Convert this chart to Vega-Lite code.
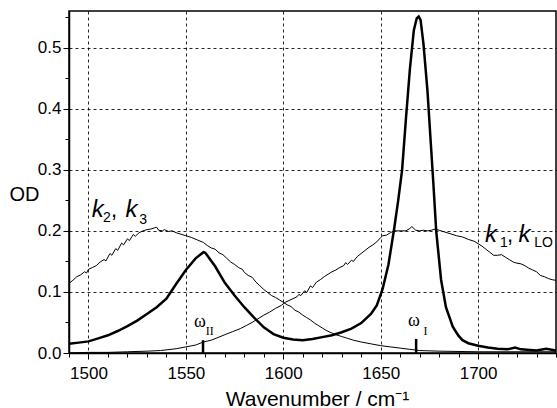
{
  "$schema": "https://vega.github.io/schema/vega-lite/v6.json",
  "autosize": "none",
  "width": 487,
  "height": 342,
  "padding": {"left": 69, "top": 11, "right": 1, "bottom": 55},
  "background": "white",
  "config": {
    "font": "Liberation Sans",
    "view": {"stroke": "black", "strokeWidth": 1.5}
  },
  "datasets": {
    "spectra": [
      {"wn": 1490, "od": 0.015, "series": "OD"},
      {"wn": 1495, "od": 0.017, "series": "OD"},
      {"wn": 1500, "od": 0.019, "series": "OD"},
      {"wn": 1505, "od": 0.024, "series": "OD"},
      {"wn": 1510, "od": 0.029, "series": "OD"},
      {"wn": 1515, "od": 0.036, "series": "OD"},
      {"wn": 1520, "od": 0.044, "series": "OD"},
      {"wn": 1525, "od": 0.053, "series": "OD"},
      {"wn": 1530, "od": 0.064, "series": "OD"},
      {"wn": 1535, "od": 0.075, "series": "OD"},
      {"wn": 1540, "od": 0.089, "series": "OD"},
      {"wn": 1545, "od": 0.113, "series": "OD"},
      {"wn": 1550, "od": 0.136, "series": "OD"},
      {"wn": 1555, "od": 0.155, "series": "OD"},
      {"wn": 1559, "od": 0.165, "series": "OD"},
      {"wn": 1560, "od": 0.164, "series": "OD"},
      {"wn": 1565, "od": 0.142, "series": "OD"},
      {"wn": 1570, "od": 0.115, "series": "OD"},
      {"wn": 1575, "od": 0.094, "series": "OD"},
      {"wn": 1580, "od": 0.075, "series": "OD"},
      {"wn": 1585, "od": 0.058, "series": "OD"},
      {"wn": 1590, "od": 0.042, "series": "OD"},
      {"wn": 1595, "od": 0.031, "series": "OD"},
      {"wn": 1600, "od": 0.025, "series": "OD"},
      {"wn": 1605, "od": 0.022, "series": "OD"},
      {"wn": 1610, "od": 0.021, "series": "OD"},
      {"wn": 1615, "od": 0.023, "series": "OD"},
      {"wn": 1620, "od": 0.026, "series": "OD"},
      {"wn": 1625, "od": 0.029, "series": "OD"},
      {"wn": 1630, "od": 0.034, "series": "OD"},
      {"wn": 1635, "od": 0.040, "series": "OD"},
      {"wn": 1640, "od": 0.049, "series": "OD"},
      {"wn": 1645, "od": 0.064, "series": "OD"},
      {"wn": 1648, "od": 0.078, "series": "OD"},
      {"wn": 1651, "od": 0.105, "series": "OD"},
      {"wn": 1654, "od": 0.145, "series": "OD"},
      {"wn": 1657, "od": 0.205, "series": "OD"},
      {"wn": 1659, "od": 0.250, "series": "OD"},
      {"wn": 1661, "od": 0.300, "series": "OD"},
      {"wn": 1663, "od": 0.385, "series": "OD"},
      {"wn": 1665, "od": 0.465, "series": "OD"},
      {"wn": 1667, "od": 0.528, "series": "OD"},
      {"wn": 1668.5, "od": 0.548, "series": "OD"},
      {"wn": 1669.5, "od": 0.551, "series": "OD"},
      {"wn": 1670.5, "od": 0.545, "series": "OD"},
      {"wn": 1672, "od": 0.505, "series": "OD"},
      {"wn": 1674, "od": 0.43, "series": "OD"},
      {"wn": 1676, "od": 0.33, "series": "OD"},
      {"wn": 1677, "od": 0.28, "series": "OD"},
      {"wn": 1678.5, "od": 0.20, "series": "OD"},
      {"wn": 1681, "od": 0.12, "series": "OD"},
      {"wn": 1683.5, "od": 0.075, "series": "OD"},
      {"wn": 1687, "od": 0.043, "series": "OD"},
      {"wn": 1690, "od": 0.028, "series": "OD"},
      {"wn": 1692, "od": 0.021, "series": "OD"},
      {"wn": 1695, "od": 0.016, "series": "OD"},
      {"wn": 1700, "od": 0.012, "series": "OD"},
      {"wn": 1705, "od": 0.009, "series": "OD"},
      {"wn": 1710, "od": 0.007, "series": "OD"},
      {"wn": 1715, "od": 0.006, "series": "OD"},
      {"wn": 1719, "od": 0.009, "series": "OD"},
      {"wn": 1722, "od": 0.006, "series": "OD"},
      {"wn": 1730, "od": 0.004, "series": "OD"},
      {"wn": 1735, "od": 0.007, "series": "OD"},
      {"wn": 1740, "od": 0.004, "series": "OD"},

      {"wn": 1490, "od": 0.114, "series": "k23"},
      {"wn": 1492, "od": 0.119, "series": "k23"},
      {"wn": 1494, "od": 0.125, "series": "k23"},
      {"wn": 1496, "od": 0.128, "series": "k23"},
      {"wn": 1498, "od": 0.133, "series": "k23"},
      {"wn": 1499, "od": 0.131, "series": "k23"},
      {"wn": 1500, "od": 0.137, "series": "k23"},
      {"wn": 1502, "od": 0.140, "series": "k23"},
      {"wn": 1504, "od": 0.143, "series": "k23"},
      {"wn": 1506, "od": 0.149, "series": "k23"},
      {"wn": 1508, "od": 0.153, "series": "k23"},
      {"wn": 1509, "od": 0.151, "series": "k23"},
      {"wn": 1511, "od": 0.163, "series": "k23"},
      {"wn": 1512, "od": 0.160, "series": "k23"},
      {"wn": 1514, "od": 0.171, "series": "k23"},
      {"wn": 1515, "od": 0.168, "series": "k23"},
      {"wn": 1517, "od": 0.180, "series": "k23"},
      {"wn": 1518, "od": 0.177, "series": "k23"},
      {"wn": 1520, "od": 0.187, "series": "k23"},
      {"wn": 1521, "od": 0.184, "series": "k23"},
      {"wn": 1523, "od": 0.194, "series": "k23"},
      {"wn": 1524, "od": 0.191, "series": "k23"},
      {"wn": 1526, "od": 0.197, "series": "k23"},
      {"wn": 1528, "od": 0.200, "series": "k23"},
      {"wn": 1530, "od": 0.202, "series": "k23"},
      {"wn": 1532, "od": 0.203, "series": "k23"},
      {"wn": 1534, "od": 0.205, "series": "k23"},
      {"wn": 1535, "od": 0.206, "series": "k23"},
      {"wn": 1536, "od": 0.201, "series": "k23"},
      {"wn": 1538, "od": 0.200, "series": "k23"},
      {"wn": 1539, "od": 0.202, "series": "k23"},
      {"wn": 1541, "od": 0.199, "series": "k23"},
      {"wn": 1543, "od": 0.200, "series": "k23"},
      {"wn": 1545, "od": 0.197, "series": "k23"},
      {"wn": 1548, "od": 0.194, "series": "k23"},
      {"wn": 1550, "od": 0.192, "series": "k23"},
      {"wn": 1553, "od": 0.189, "series": "k23"},
      {"wn": 1556, "od": 0.185, "series": "k23"},
      {"wn": 1559, "od": 0.181, "series": "k23"},
      {"wn": 1561, "od": 0.176, "series": "k23"},
      {"wn": 1563, "od": 0.172, "series": "k23"},
      {"wn": 1565, "od": 0.170, "series": "k23"},
      {"wn": 1567, "od": 0.164, "series": "k23"},
      {"wn": 1569, "od": 0.161, "series": "k23"},
      {"wn": 1571, "od": 0.155, "series": "k23"},
      {"wn": 1573, "od": 0.149, "series": "k23"},
      {"wn": 1575, "od": 0.145, "series": "k23"},
      {"wn": 1577, "od": 0.140, "series": "k23"},
      {"wn": 1579, "od": 0.137, "series": "k23"},
      {"wn": 1580, "od": 0.132, "series": "k23"},
      {"wn": 1582, "od": 0.127, "series": "k23"},
      {"wn": 1584, "od": 0.124, "series": "k23"},
      {"wn": 1586, "od": 0.116, "series": "k23"},
      {"wn": 1588, "od": 0.110, "series": "k23"},
      {"wn": 1590, "od": 0.104, "series": "k23"},
      {"wn": 1592, "od": 0.099, "series": "k23"},
      {"wn": 1594, "od": 0.094, "series": "k23"},
      {"wn": 1596, "od": 0.091, "series": "k23"},
      {"wn": 1598, "od": 0.087, "series": "k23"},
      {"wn": 1600, "od": 0.083, "series": "k23"},
      {"wn": 1602, "od": 0.079, "series": "k23"},
      {"wn": 1604, "od": 0.076, "series": "k23"},
      {"wn": 1606, "od": 0.070, "series": "k23"},
      {"wn": 1608, "od": 0.067, "series": "k23"},
      {"wn": 1610, "od": 0.062, "series": "k23"},
      {"wn": 1612, "od": 0.058, "series": "k23"},
      {"wn": 1614, "od": 0.054, "series": "k23"},
      {"wn": 1616, "od": 0.049, "series": "k23"},
      {"wn": 1618, "od": 0.045, "series": "k23"},
      {"wn": 1620, "od": 0.041, "series": "k23"},
      {"wn": 1622, "od": 0.037, "series": "k23"},
      {"wn": 1624, "od": 0.034, "series": "k23"},
      {"wn": 1627, "od": 0.030, "series": "k23"},
      {"wn": 1630, "od": 0.027, "series": "k23"},
      {"wn": 1633, "od": 0.024, "series": "k23"},
      {"wn": 1636, "od": 0.021, "series": "k23"},
      {"wn": 1640, "od": 0.018, "series": "k23"},
      {"wn": 1645, "od": 0.015, "series": "k23"},
      {"wn": 1650, "od": 0.012, "series": "k23"},
      {"wn": 1655, "od": 0.010, "series": "k23"},
      {"wn": 1660, "od": 0.008, "series": "k23"},
      {"wn": 1665, "od": 0.006, "series": "k23"},
      {"wn": 1670, "od": 0.004, "series": "k23"},
      {"wn": 1680, "od": 0.003, "series": "k23"},
      {"wn": 1700, "od": 0.002, "series": "k23"},
      {"wn": 1740, "od": 0.002, "series": "k23"},

      {"wn": 1490, "od": 0.000, "series": "k1LO"},
      {"wn": 1500, "od": 0.001, "series": "k1LO"},
      {"wn": 1510, "od": 0.001, "series": "k1LO"},
      {"wn": 1520, "od": 0.002, "series": "k1LO"},
      {"wn": 1530, "od": 0.003, "series": "k1LO"},
      {"wn": 1537, "od": 0.004, "series": "k1LO"},
      {"wn": 1545, "od": 0.007, "series": "k1LO"},
      {"wn": 1550, "od": 0.010, "series": "k1LO"},
      {"wn": 1555, "od": 0.013, "series": "k1LO"},
      {"wn": 1559, "od": 0.018, "series": "k1LO"},
      {"wn": 1563, "od": 0.021, "series": "k1LO"},
      {"wn": 1567, "od": 0.026, "series": "k1LO"},
      {"wn": 1570, "od": 0.030, "series": "k1LO"},
      {"wn": 1574, "od": 0.035, "series": "k1LO"},
      {"wn": 1578, "od": 0.040, "series": "k1LO"},
      {"wn": 1581, "od": 0.045, "series": "k1LO"},
      {"wn": 1584, "od": 0.050, "series": "k1LO"},
      {"wn": 1587, "od": 0.056, "series": "k1LO"},
      {"wn": 1590, "od": 0.062, "series": "k1LO"},
      {"wn": 1593, "od": 0.067, "series": "k1LO"},
      {"wn": 1596, "od": 0.073, "series": "k1LO"},
      {"wn": 1599, "od": 0.078, "series": "k1LO"},
      {"wn": 1601, "od": 0.083, "series": "k1LO"},
      {"wn": 1603, "od": 0.086, "series": "k1LO"},
      {"wn": 1605, "od": 0.089, "series": "k1LO"},
      {"wn": 1607, "od": 0.092, "series": "k1LO"},
      {"wn": 1608, "od": 0.096, "series": "k1LO"},
      {"wn": 1609, "od": 0.094, "series": "k1LO"},
      {"wn": 1611, "od": 0.102, "series": "k1LO"},
      {"wn": 1612, "od": 0.099, "series": "k1LO"},
      {"wn": 1614, "od": 0.110, "series": "k1LO"},
      {"wn": 1615, "od": 0.107, "series": "k1LO"},
      {"wn": 1617, "od": 0.116, "series": "k1LO"},
      {"wn": 1619, "od": 0.120, "series": "k1LO"},
      {"wn": 1621, "od": 0.125, "series": "k1LO"},
      {"wn": 1623, "od": 0.129, "series": "k1LO"},
      {"wn": 1625, "od": 0.133, "series": "k1LO"},
      {"wn": 1627, "od": 0.136, "series": "k1LO"},
      {"wn": 1629, "od": 0.140, "series": "k1LO"},
      {"wn": 1631, "od": 0.143, "series": "k1LO"},
      {"wn": 1632, "od": 0.148, "series": "k1LO"},
      {"wn": 1633, "od": 0.145, "series": "k1LO"},
      {"wn": 1635, "od": 0.152, "series": "k1LO"},
      {"wn": 1636, "od": 0.150, "series": "k1LO"},
      {"wn": 1638, "od": 0.158, "series": "k1LO"},
      {"wn": 1640, "od": 0.163, "series": "k1LO"},
      {"wn": 1642, "od": 0.168, "series": "k1LO"},
      {"wn": 1644, "od": 0.173, "series": "k1LO"},
      {"wn": 1646, "od": 0.177, "series": "k1LO"},
      {"wn": 1648, "od": 0.182, "series": "k1LO"},
      {"wn": 1650, "od": 0.189, "series": "k1LO"},
      {"wn": 1651, "od": 0.192, "series": "k1LO"},
      {"wn": 1653, "od": 0.193, "series": "k1LO"},
      {"wn": 1655, "od": 0.197, "series": "k1LO"},
      {"wn": 1657, "od": 0.200, "series": "k1LO"},
      {"wn": 1660, "od": 0.200, "series": "k1LO"},
      {"wn": 1663, "od": 0.200, "series": "k1LO"},
      {"wn": 1665, "od": 0.204, "series": "k1LO"},
      {"wn": 1666, "od": 0.207, "series": "k1LO"},
      {"wn": 1668, "od": 0.201, "series": "k1LO"},
      {"wn": 1670, "od": 0.200, "series": "k1LO"},
      {"wn": 1672, "od": 0.201, "series": "k1LO"},
      {"wn": 1674, "od": 0.200, "series": "k1LO"},
      {"wn": 1676, "od": 0.201, "series": "k1LO"},
      {"wn": 1678, "od": 0.203, "series": "k1LO"},
      {"wn": 1680, "od": 0.201, "series": "k1LO"},
      {"wn": 1683, "od": 0.198, "series": "k1LO"},
      {"wn": 1686, "od": 0.195, "series": "k1LO"},
      {"wn": 1689, "od": 0.192, "series": "k1LO"},
      {"wn": 1692, "od": 0.190, "series": "k1LO"},
      {"wn": 1695, "od": 0.186, "series": "k1LO"},
      {"wn": 1698, "od": 0.183, "series": "k1LO"},
      {"wn": 1700, "od": 0.179, "series": "k1LO"},
      {"wn": 1702, "od": 0.175, "series": "k1LO"},
      {"wn": 1704, "od": 0.170, "series": "k1LO"},
      {"wn": 1706, "od": 0.165, "series": "k1LO"},
      {"wn": 1708, "od": 0.160, "series": "k1LO"},
      {"wn": 1710, "od": 0.160, "series": "k1LO"},
      {"wn": 1712, "od": 0.161, "series": "k1LO"},
      {"wn": 1714, "od": 0.157, "series": "k1LO"},
      {"wn": 1716, "od": 0.153, "series": "k1LO"},
      {"wn": 1718, "od": 0.149, "series": "k1LO"},
      {"wn": 1720, "od": 0.147, "series": "k1LO"},
      {"wn": 1722, "od": 0.146, "series": "k1LO"},
      {"wn": 1724, "od": 0.143, "series": "k1LO"},
      {"wn": 1726, "od": 0.139, "series": "k1LO"},
      {"wn": 1728, "od": 0.136, "series": "k1LO"},
      {"wn": 1730, "od": 0.133, "series": "k1LO"},
      {"wn": 1732, "od": 0.127, "series": "k1LO"},
      {"wn": 1734, "od": 0.125, "series": "k1LO"},
      {"wn": 1736, "od": 0.122, "series": "k1LO"},
      {"wn": 1738, "od": 0.120, "series": "k1LO"},
      {"wn": 1740, "od": 0.119, "series": "k1LO"}
    ],
    "klabels": [
      {"wn": 1501.7, "od": 0.2227, "text": "k", "kind": "main"},
      {"wn": 1507.5, "od": 0.214, "text": "2", "kind": "sub"},
      {"wn": 1511.5, "od": 0.2227, "text": ",", "kind": "plain"},
      {"wn": 1519.0, "od": 0.2227, "text": "k", "kind": "main"},
      {"wn": 1526.0, "od": 0.211, "text": "3", "kind": "sub"},
      {"wn": 1703.6, "od": 0.1818, "text": "k", "kind": "main"},
      {"wn": 1711.3, "od": 0.173, "text": "1", "kind": "sub"},
      {"wn": 1714.8, "od": 0.1818, "text": ",", "kind": "plain"},
      {"wn": 1720.8, "od": 0.1818, "text": "k", "kind": "main"},
      {"wn": 1728.8, "od": 0.173, "text": "LO", "kind": "sub"}
    ],
    "omega": [
      {"wn": 1554.2, "od": 0.042, "text": "ω", "kind": "main"},
      {"wn": 1560.2, "od": 0.029, "text": "II", "kind": "sub"},
      {"wn": 1664.0, "od": 0.0437, "text": "ω", "kind": "main"},
      {"wn": 1672.0, "od": 0.029, "text": "I", "kind": "sub"}
    ],
    "markers": [
      {"wn": 1558.8, "od": 0, "od2": 0.021},
      {"wn": 1668.2, "od": 0, "od2": 0.023}
    ]
  },
  "layer": [
    {
      "data": {"name": "markers"},
      "mark": {"type": "rule", "color": "black", "strokeWidth": 2.5},
      "encoding": {
        "x": {"field": "wn", "type": "quantitative", "scale": {"domain": [1490, 1740], "nice": false, "zero": false},
          "axis": {
            "values": [1490, 1500, 1510, 1520, 1530, 1540, 1550, 1560, 1570, 1580, 1590, 1600, 1610, 1620, 1630, 1640, 1650, 1660, 1670, 1680, 1690, 1700, 1710, 1720, 1730, 1740],
            "tickCount": 200,
            "labelExpr": "datum.value % 50 === 0 ? format(datum.value, 'd') : ''",
            "tickSize": {"condition": {"test": "datum.value % 50 === 0", "value": 6}, "value": 4},
            "tickColor": "black",
            "tickWidth": 1,
            "domainColor": "black",
            "domainWidth": 1.5,
            "grid": true,
            "gridColor": "black",
            "gridDash": [3, 3],
            "gridWidth": 1,
            "gridOpacity": {"condition": {"test": "datum.value % 50 === 0 && datum.value > 1490 && datum.value < 1740", "value": 0.85}, "value": 0},
            "labelFontSize": 17,
            "labelColor": "black",
            "labelPadding": 6,
            "labelFlush": false,
            "labelOverlap": false,
            "title": "Wavenumber /  cm⁻¹",
            "titleFontSize": 21,
            "titleFontWeight": "normal",
            "titleColor": "black",
            "titleX": 248,
            "titleY": 52,
            "titleAlign": "center",
            "titleBaseline": "alphabetic"
          }
        },
        "y": {"field": "od", "type": "quantitative", "scale": {"domain": [0, 0.56], "nice": false},
          "axis": {
            "values": [0, 0.05, 0.1, 0.15, 0.2, 0.25, 0.3, 0.35, 0.4, 0.45, 0.5, 0.55],
            "tickCount": 200,
            "labelExpr": "abs(datum.value * 10 - round(datum.value * 10)) < 0.001 ? format(datum.value, '.1f') : ''",
            "tickSize": {"condition": {"test": "abs(datum.value * 10 - round(datum.value * 10)) < 0.001", "value": 6}, "value": 4},
            "tickColor": "black",
            "tickWidth": 1,
            "domainColor": "black",
            "domainWidth": 1.5,
            "grid": true,
            "gridColor": "black",
            "gridDash": [3, 3],
            "gridWidth": 1,
            "gridOpacity": {"condition": {"test": "abs(datum.value * 10 - round(datum.value * 10)) < 0.001 && datum.value > 0", "value": 0.85}, "value": 0},
            "labelFontSize": 17,
            "labelColor": "black",
            "labelPadding": 2,
            "labelFlush": false,
            "labelOverlap": false,
            "title": "OD",
            "titleFontSize": 20,
            "titleFontWeight": "normal",
            "titleColor": "black",
            "titleAngle": 0,
            "titleX": -60,
            "titleY": 189,
            "titleAlign": "left",
            "titleBaseline": "alphabetic"
          }
        },
        "y2": {"field": "od2"}
      }
    },
    {
      "data": {"name": "spectra"},
      "transform": [{"filter": "datum.series !== 'OD'"}],
      "mark": {"type": "line", "color": "black", "strokeWidth": 1, "clip": true},
      "encoding": {
        "x": {"field": "wn", "type": "quantitative"},
        "y": {"field": "od", "type": "quantitative"},
        "detail": {"field": "series"}
      }
    },
    {
      "data": {"name": "spectra"},
      "transform": [{"filter": "datum.series === 'OD'"}],
      "mark": {"type": "line", "color": "black", "strokeWidth": 2.5, "clip": true},
      "encoding": {
        "x": {"field": "wn", "type": "quantitative"},
        "y": {"field": "od", "type": "quantitative"}
      }
    },
    {
      "data": {"name": "klabels"},
      "transform": [{"filter": "datum.kind === 'main'"}],
      "mark": {"type": "text", "font": "Liberation Sans", "fontSize": 24, "fontStyle": "italic", "align": "left", "baseline": "alphabetic", "color": "black"},
      "encoding": {
        "x": {"field": "wn", "type": "quantitative"},
        "y": {"field": "od", "type": "quantitative"},
        "text": {"field": "text"}
      }
    },
    {
      "data": {"name": "klabels"},
      "transform": [{"filter": "datum.kind === 'plain'"}],
      "mark": {"type": "text", "font": "Liberation Sans", "fontSize": 22, "align": "left", "baseline": "alphabetic", "color": "black"},
      "encoding": {
        "x": {"field": "wn", "type": "quantitative"},
        "y": {"field": "od", "type": "quantitative"},
        "text": {"field": "text"}
      }
    },
    {
      "data": {"name": "klabels"},
      "transform": [{"filter": "datum.kind === 'sub'"}],
      "mark": {"type": "text", "font": "Liberation Sans", "fontSize": 14, "align": "left", "baseline": "alphabetic", "color": "black"},
      "encoding": {
        "x": {"field": "wn", "type": "quantitative"},
        "y": {"field": "od", "type": "quantitative"},
        "text": {"field": "text"}
      }
    },
    {
      "data": {"name": "omega"},
      "transform": [{"filter": "datum.kind === 'main'"}],
      "mark": {"type": "text", "font": "Liberation Serif", "fontSize": 18, "align": "left", "baseline": "alphabetic", "color": "black"},
      "encoding": {
        "x": {"field": "wn", "type": "quantitative"},
        "y": {"field": "od", "type": "quantitative"},
        "text": {"field": "text"}
      }
    },
    {
      "data": {"name": "omega"},
      "transform": [{"filter": "datum.kind === 'sub'"}],
      "mark": {"type": "text", "font": "Liberation Serif", "fontSize": 12, "align": "left", "baseline": "alphabetic", "color": "black"},
      "encoding": {
        "x": {"field": "wn", "type": "quantitative"},
        "y": {"field": "od", "type": "quantitative"},
        "text": {"field": "text"}
      }
    }
  ]
}
